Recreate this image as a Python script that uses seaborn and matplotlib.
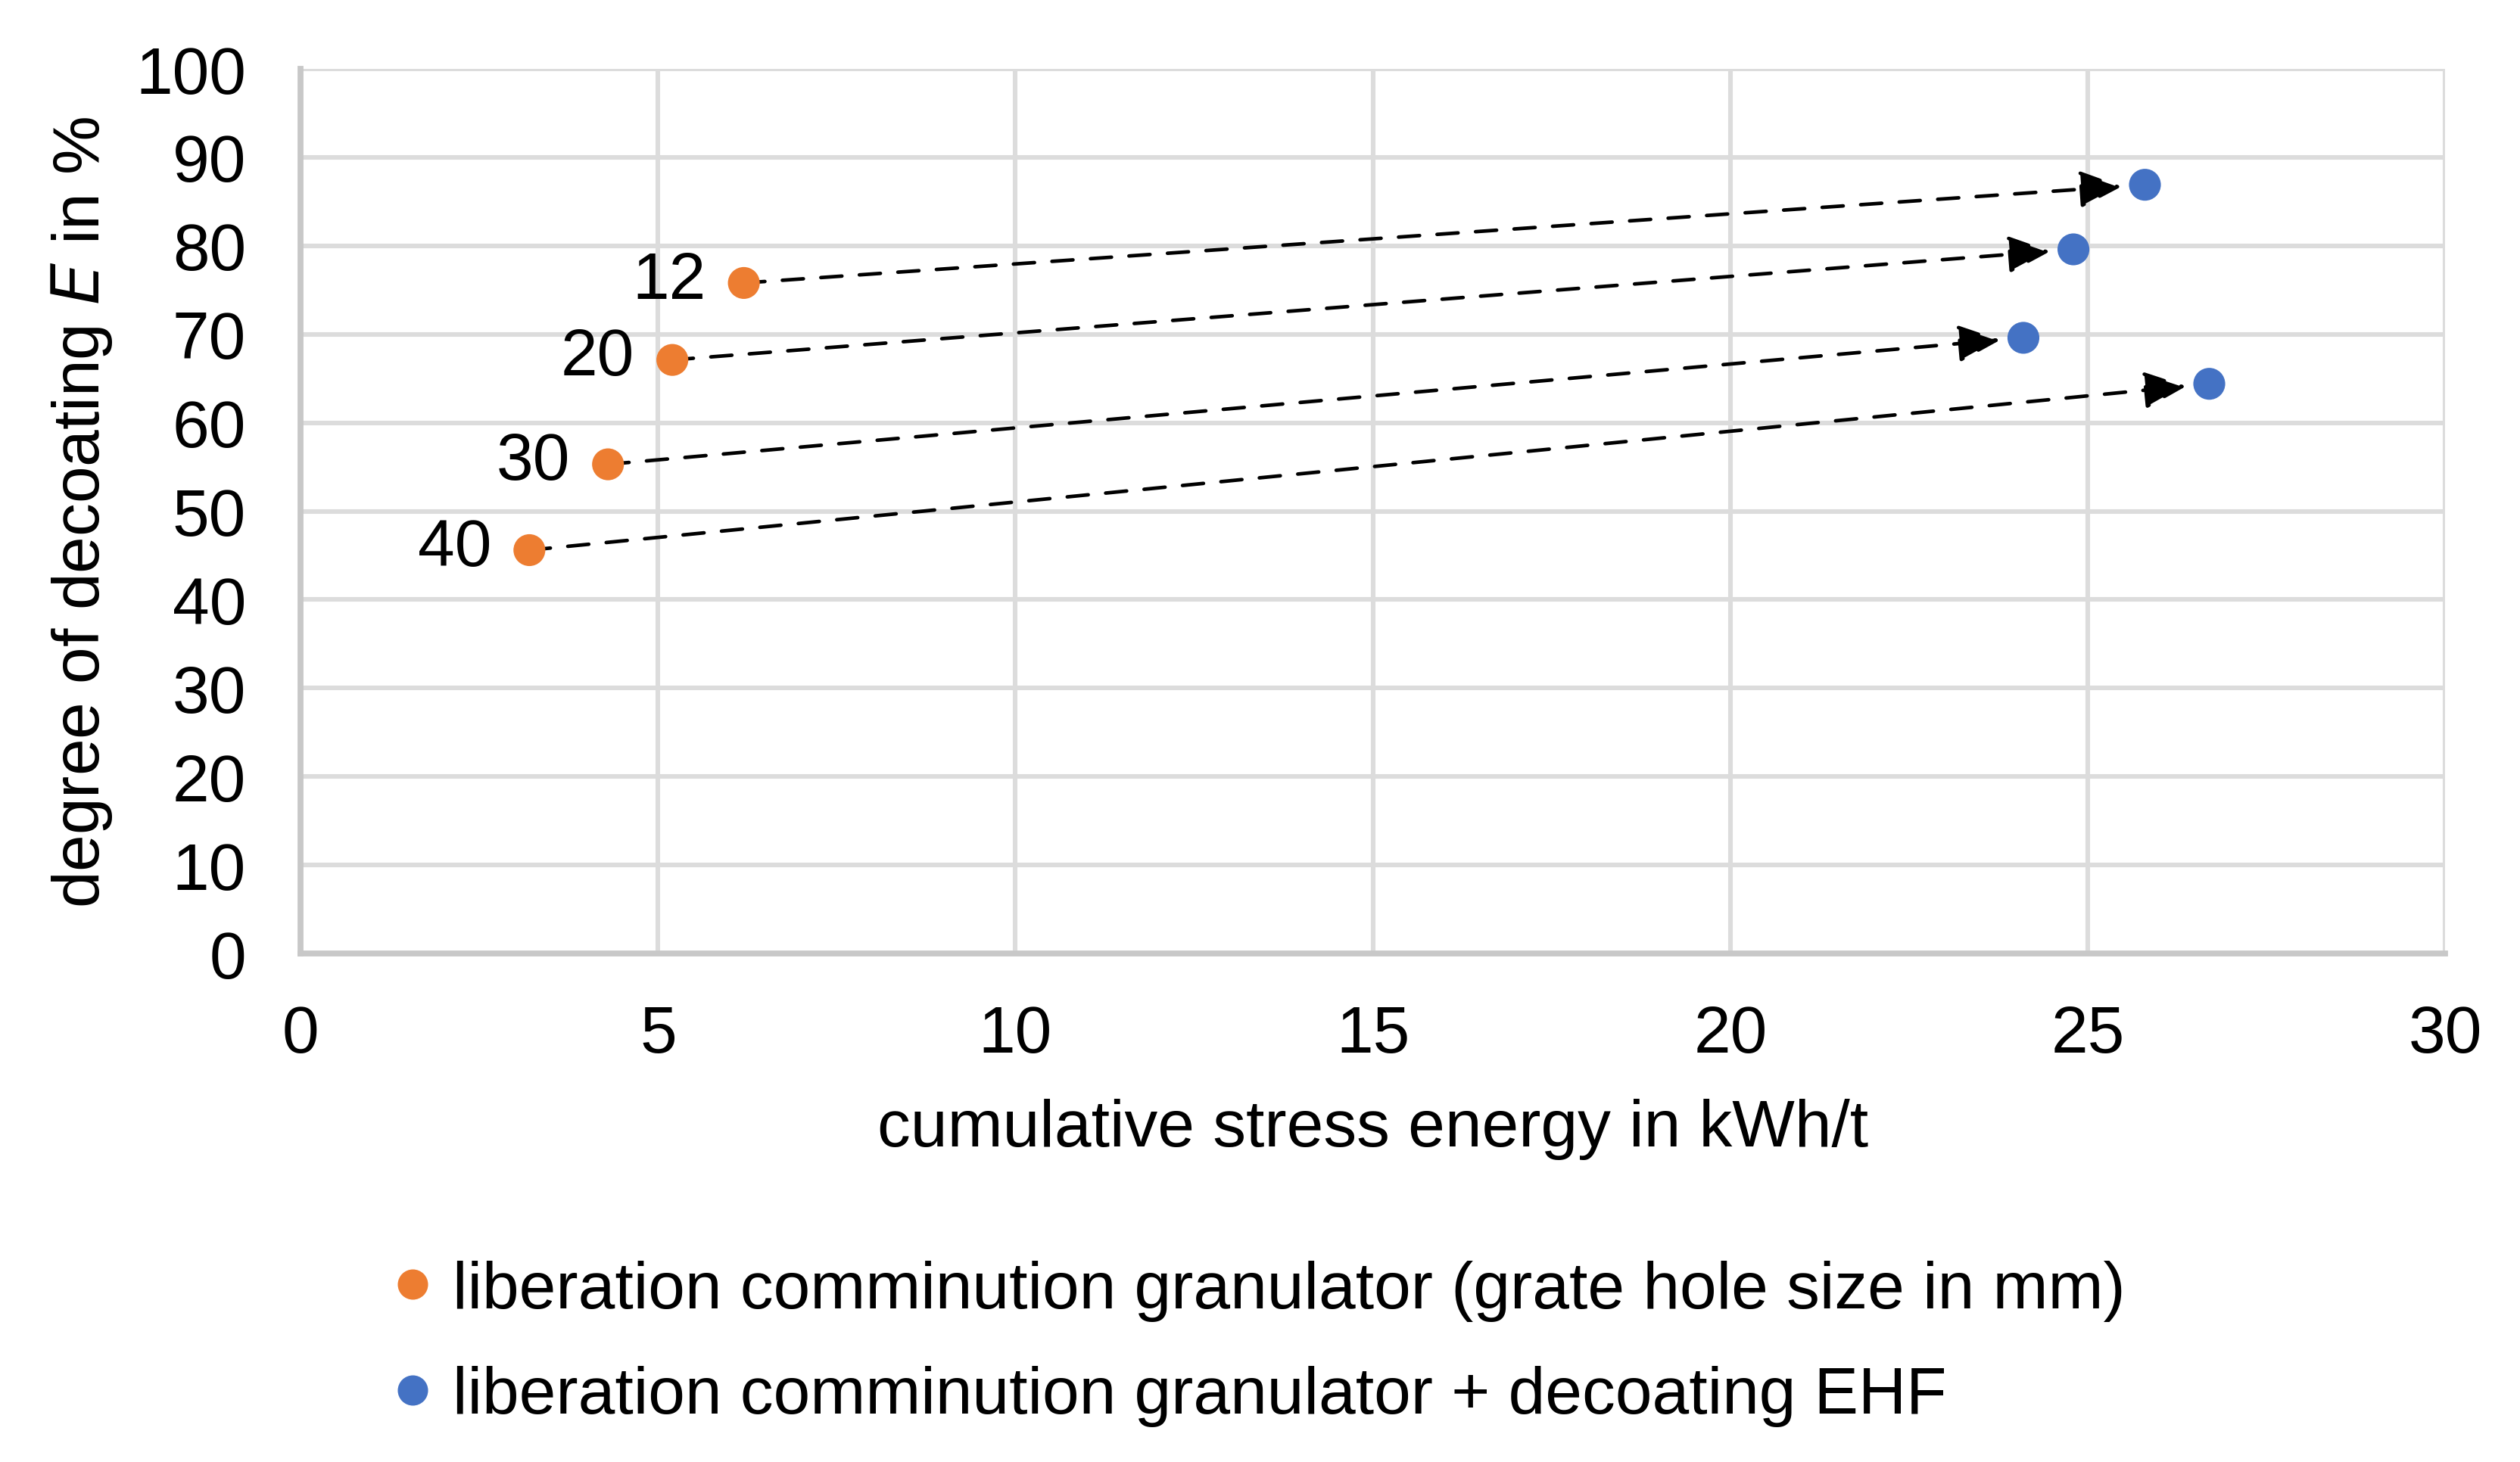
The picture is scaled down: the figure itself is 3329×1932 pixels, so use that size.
import numpy as np
import pandas as pd
import matplotlib
matplotlib.use("Agg")
import matplotlib.pyplot as plt
import seaborn as sns

# values
grate_sizes = ["12", "20", "30", "40"]
energy_granulator = [6.2, 5.2, 4.3, 3.2]
decoating_granulator = [75.8, 67.1, 55.3, 45.6]
energy_ehf = [25.8, 24.8, 24.1, 26.7]
decoating_ehf = [86.9, 79.6, 69.6, 64.4]

series_names = ["liberation comminution granulator (grate hole size in mm)",
                "liberation comminution granulator + decoating EHF"]
colors = ["#ED7D31", "#4472C4"]

df = pd.DataFrame({
    "energy": energy_granulator + energy_ehf,
    "decoating": decoating_granulator + decoating_ehf,
    "series": [series_names[0]] * 4 + [series_names[1]] * 4,
})

sns.set_theme(style="white")
plt.rcParams["font.family"] = ["Liberation Sans", "DejaVu Sans"]
plt.rcParams["text.color"] = "black"
plt.rcParams["axes.labelcolor"] = "black"
fs = 31.5

fig = plt.figure(figsize=(16.645, 9.665), dpi=200)
ax = fig.add_axes([0.1193, 0.3476, 0.851, 0.6048])

# dashed arrows from each granulator point to its EHF point
for i in range(len(grate_sizes)):
    ax.annotate("", xy=(energy_ehf[i], decoating_ehf[i]),
                xytext=(energy_granulator[i], decoating_granulator[i]),
                arrowprops=dict(arrowstyle="-|>,head_length=0.43,head_width=0.19",
                                linestyle=(0, (5.9, 4.9)),
                                color="black", lw=1.7, mutation_scale=40,
                                shrinkA=0, shrinkB=11),
                zorder=2)

sns.scatterplot(data=df, x="energy", y="decoating", hue="series",
                palette=colors, s=230, linewidth=0, ax=ax, zorder=3)

for lab, x, y in zip(grate_sizes, energy_granulator, decoating_granulator):
    ax.annotate(lab, (x, y), xytext=(-18, 1), textcoords="offset points",
                ha="right", va="center", fontsize=fs, color="black")

ax.set_xlim(0, 30)
ax.set_ylim(0, 100)
ax.set_xticks(np.arange(0, 31, 5))
ax.set_yticks(np.arange(0, 101, 10))
ax.tick_params(axis="both", labelsize=fs, length=0, colors="black")
ax.tick_params(axis="x", pad=24)
ax.tick_params(axis="y", pad=26)
ax.grid(True, color="#dcdcdc", linewidth=2.2)
ax.set_axisbelow(True)
for side in ["top", "right"]:
    ax.spines[side].set_visible(False)
for side in ["left", "bottom"]:
    ax.spines[side].set_color("#c8c8c8")
    ax.spines[side].set_linewidth(2.8)

ax.set_xlabel("cumulative stress energy in kWh/t", fontsize=fs)
ax.set_ylabel("degree of decoating $\\it{E}$ in %", fontsize=fs)
ax.xaxis.set_label_coords(0.5, -0.163)
ax.yaxis.set_label_coords(-0.087, 0.5)

handles, labels = ax.get_legend_handles_labels()
ax.legend(handles, labels, loc="upper left", bbox_to_anchor=(0.127, 0.179),
          bbox_transform=fig.transFigure, frameon=False, fontsize=fs,
          markerscale=0.95, handletextpad=0.1, labelspacing=0.67,
          handlelength=1.0)

fig.savefig("out.png", dpi=200)
